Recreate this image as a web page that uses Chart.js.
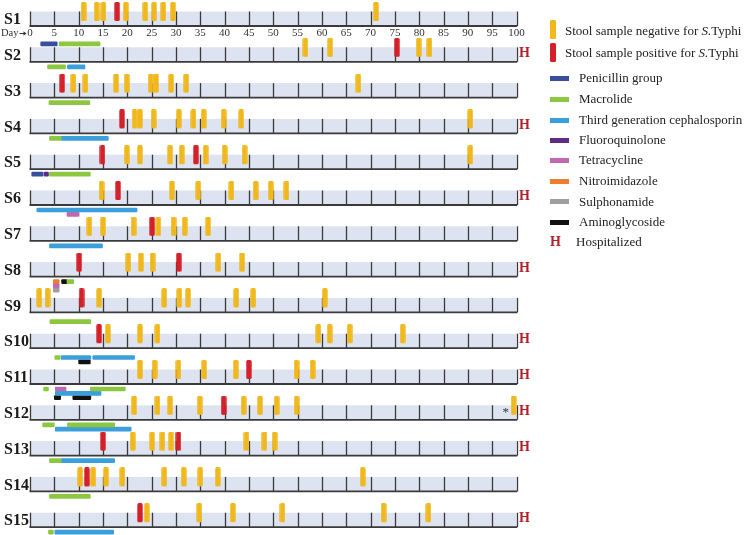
<!DOCTYPE html>
<html>
<head>
<meta charset="utf-8">
<script src="https://cdn.jsdelivr.net/npm/chart.js@4.4.1/dist/chart.umd.min.js"></script>
<style>
  body { margin: 0; background: #fff; }
  #wrap { position: relative; width: 750px; height: 535px; }
  #legend { position: absolute; left: 0; top: 0; font-family: "Liberation Serif", serif; font-size: 13px; color: #222; }
  .item { position: absolute; height: 16px; line-height: 16px; white-space: nowrap; }
  .sw { position: absolute; }
</style>
</head>
<body>
<div id="wrap">
  <canvas id="chart" width="750" height="535"></canvas>
  <div id="legend"></div>
</div>
<script>
// ── Data ─────────────────────────────────────────────────────────────────────
const rows = [1, 2, 3, 4, 5, 6, 7, 8, 9, 10, 11, 12, 13, 14, 15];
const rowLabels = rows.map(r => "S" + r);
const dayTicks = [0, 5, 10, 15, 20, 25, 30, 35, 40, 45, 50, 55, 60, 65, 70, 75, 80, 85, 90, 95, 100];

// stool sample days, one list per subject (S1..S15)
const negativeDays = [
  [11.0, 13.7, 15.1, 19.7, 23.7, 25.5, 27.4, 29.4, 71.1],
  [56.6, 61.7, 79.9, 82.1],
  [8.9, 11.4, 17.7, 19.9, 24.8, 25.9, 29.0, 32.1, 67.5],
  [21.5, 22.6, 25.4, 30.6, 33.6, 35.7, 39.8, 43.4, 90.5],
  [19.9, 22.6, 28.8, 31.2, 36.1, 40.0, 44.1, 90.5],
  [14.7, 29.2, 34.6, 41.4, 46.4, 49.5, 52.7],
  [12.2, 15.0, 21.3, 26.4, 29.5, 31.8, 36.6],
  [20.2, 22.8, 25.2, 38.7, 43.6],
  [1.9, 3.6, 14.2, 27.6, 30.7, 32.5, 42.4, 45.9, 60.6],
  [16.0, 22.6, 26.2, 59.3, 61.6, 65.7, 76.6],
  [22.6, 25.6, 30.5, 35.8, 42.3, 54.8, 58.1],
  [21.4, 26.2, 28.8, 34.9, 43.9, 47.3, 50.7, 54.8, 99.4],
  [21.1, 25.1, 27.2, 29.0, 44.5, 48.2, 50.3],
  [10.3, 13.0, 15.6, 19.0, 27.6, 31.6, 35.0, 38.6, 68.4],
  [24.0, 34.8, 41.7, 51.9, 72.7, 81.9]
];
const positiveDays = [
  [17.9], [75.4], [6.6], [18.9], [14.9, 34.1], [18.1], [25.1], [10.1, 30.6],
  [10.6], [14.2], [45.0], [39.8], [15.0, 30.5], [11.7], [22.6]
];

// antibiotic courses: [subject, start day, end day, lane under the row]
const penicillin = [[1, 2.2, 5.6, 3], [5, 0.35, 2.7, 0]];
const macrolide = [
  [1, 6.0, 14.4, 3], [2, 3.6, 7.3, 0], [3, 3.9, 12.3, 0], [4, 4.0, 6.4, 0], [5, 4.0, 12.4, 0],
  [8, 7.6, 9.0, 0], [9, 4.1, 12.5, 1], [10, 5.1, 6.2, 1], [11, 2.8, 3.8, 0], [11, 12.4, 19.6, 0],
  [12, 2.6, 5.0, 0], [12, 7.7, 17.4, 0], [13, 4.0, 6.4, 0], [14, 4.0, 12.4, 0], [15, 3.8, 4.8, 0]
];
const cephalosporin = [
  [2, 7.7, 11.3, 0], [4, 6.4, 16.1, 0], [6, 1.4, 22.0, 0], [7, 4.0, 14.9, 0], [10, 6.4, 12.5, 1],
  [10, 12.9, 21.5, 1], [11, 5.2, 14.6, 1], [12, 5.2, 20.8, 1], [13, 6.4, 17.4, 0], [15, 5.1, 17.2, 0]
];
const fluoroquinolone = [[5, 2.9, 3.8, 0]];
const tetracycline = [[6, 7.6, 10.1, 1], [8, 4.8, 6.0, 1], [11, 5.2, 7.4, 0]];
const nitroimidazole = [[8, 4.8, 6.0, 0]];
const sulphonamide = [[8, 4.8, 6.0, 2]];
const aminoglycoside = [[8, 6.5, 7.6, 0], [10, 10.0, 12.4, 2], [11, 5.0, 6.3, 2], [11, 8.8, 12.5, 2]];

const hospitalized = [2, 4, 6, 8, 10, 11, 12, 13, 15];
const starNote = { row: 12, day: 97.8 };

// ── Look ─────────────────────────────────────────────────────────────────────
const SERIF = '"Liberation Serif", serif';
const YELLOW = "#f0b81c";
const RED = "#d42029";
const H_RED = "#b3202a";
const BAND = "#dde3f0";
const LINE = "#3a3a3a";
const ROW_STEP = 35.8;   // px between row baselines
const FIRST_BASE = 26;   // px of S1 baseline
const BAND_H = 14.5;
const lanePx = lane => 5 + 4.3 * lane;

const DRUGS = [
  { label: "Penicillin group", data: penicillin, color: "#3a4e9e" },
  { label: "Macrolide", data: macrolide, color: "#8dc641" },
  { label: "Third generation cephalosporin", data: cephalosporin, color: "#3a9fdb" },
  { label: "Fluoroquinolone", data: fluoroquinolone, color: "#5e2c82" },
  { label: "Tetracycline", data: tetracycline, color: "#c068b0" },
  { label: "Nitroimidazole", data: nitroimidazole, color: "#ee7d2e" },
  { label: "Sulphonamide", data: sulphonamide, color: "#a39d9d" },
  { label: "Aminoglycoside", data: aminoglycoside, color: "#111111" }
];

// sample marker sprite: bar sits above the point (point = row baseline)
function markerSprite(color) {
  const c = document.createElement("canvas");
  c.width = 6; c.height = 48;
  const g = c.getContext("2d");
  g.fillStyle = color;
  g.beginPath();
  g.roundRect(0.3, 0, 5.4, 19, 1.5);
  g.fill();
  return c;
}

const toPoints = lists => lists.flatMap((days, i) => days.map(d => ({ x: d, y: rows[i] })));

// ── Frame plugin: bands, ticks, row labels, day axis, H marks ────────────────
const framePlugin = {
  id: "frame",
  beforeDatasetsDraw(chart) {
    const { ctx, scales: { x, y } } = chart;
    ctx.save();
    rows.forEach(r => {
      const b = y.getPixelForValue(r);
      const x0 = x.getPixelForValue(0), x1 = x.getPixelForValue(100);
      ctx.fillStyle = BAND;
      ctx.fillRect(x0, b - BAND_H, x1 - x0, BAND_H);
      ctx.strokeStyle = LINE;
      ctx.lineWidth = 1.3;
      dayTicks.forEach(d => {
        const px = Math.round(x.getPixelForValue(d)) + 0.5;
        ctx.beginPath();
        ctx.moveTo(px, b - BAND_H);
        ctx.lineTo(px, b);
        ctx.stroke();
      });
      ctx.lineWidth = 1.8;
      ctx.beginPath();
      ctx.moveTo(x0 - 0.5, b);
      ctx.lineTo(x1 + 0.7, b);
      ctx.stroke();
    });
    ctx.restore();
  },
  afterDraw(chart) {
    const { ctx, scales: { x, y } } = chart;
    ctx.save();
    ctx.textBaseline = "middle";
    // row labels
    ctx.fillStyle = "#1a1a1a";
    ctx.font = "bold 16px " + SERIF;
    ctx.textAlign = "left";
    rows.forEach((r, i) => ctx.fillText(rowLabels[i], 4, y.getPixelForValue(r) - 6));
    // day axis under S1
    const b1 = y.getPixelForValue(rows[0]);
    const x0 = x.getPixelForValue(0);
    ctx.fillStyle = "#333";
    ctx.font = "11px " + SERIF;
    ctx.textAlign = "center";
    dayTicks.forEach(d => ctx.fillText(String(d), x.getPixelForValue(d), b1 + 7.5));
    ctx.textAlign = "left";
    ctx.font = "10.5px " + SERIF;
    ctx.fillText("Day", x0 - 29, b1 + 7.5);
    ctx.strokeStyle = "#333";
    ctx.lineWidth = 1;
    ctx.beginPath();
    ctx.moveTo(x0 - 10.5, b1 + 7.5);
    ctx.lineTo(x0 - 4, b1 + 7.5);
    ctx.stroke();
    ctx.beginPath();
    ctx.moveTo(x0 - 3.5, b1 + 7.5);
    ctx.lineTo(x0 - 6.5, b1 + 5.2);
    ctx.lineTo(x0 - 6.5, b1 + 9.8);
    ctx.closePath();
    ctx.fill();
    // hospitalized marks
    ctx.fillStyle = H_RED;
    ctx.font = "bold 14px " + SERIF;
    hospitalized.forEach(r => ctx.fillText("H", x.right + 2.5, y.getPixelForValue(r) - 8.5));
    // asterisk note
    ctx.fillStyle = "#333";
    ctx.font = "13px " + SERIF;
    ctx.textAlign = "center";
    ctx.fillText("*", x.getPixelForValue(starNote.day), y.getPixelForValue(starNote.row) - 7);
    ctx.restore();
  }
};

// ── Chart ────────────────────────────────────────────────────────────────────
Chart.defaults.font.family = SERIF;

const drugDatasets = DRUGS.map(dr => ({
  type: "bar",
  label: dr.label,
  indexAxis: "y",
  grouped: false,
  barThickness: 4,
  borderRadius: 1,
  borderSkipped: false,
  backgroundColor: dr.color,
  data: dr.data.map(([r, s, e, lane]) => ({ x: [s, e], y: r + lanePx(lane) / ROW_STEP }))
}));

const sampleDataset = (label, lists, color) => ({
  type: "scatter",
  label,
  data: toPoints(lists),
  pointStyle: markerSprite(color),
  pointRadius: 3,
  pointBorderWidth: 0,
  clip: false
});

new Chart(document.getElementById("chart"), {
  type: "bar",
  data: {
    datasets: [
      sampleDataset("Stool sample positive for S.Typhi", positiveDays, RED),
      sampleDataset("Stool sample negative for S.Typhi", negativeDays, YELLOW),
      ...drugDatasets
    ]
  },
  options: {
    responsive: false,
    animation: false,
    layout: { autoPadding: false, padding: { left: 30, right: 233.5, top: 0, bottom: 0 } },
    plugins: { legend: { display: false }, tooltip: { enabled: false } },
    scales: {
      x: { type: "linear", display: false, offset: false, min: 0, max: 100 },
      y: {
        type: "linear",
        display: false,
        offset: false,
        reverse: true,
        min: 1 - FIRST_BASE / ROW_STEP,
        max: 1 + (535 - FIRST_BASE) / ROW_STEP
      }
    }
  },
  plugins: [framePlugin]
});

// ── HTML legend ──────────────────────────────────────────────────────────────
const legend = document.getElementById("legend");
function addItem(center, swatchHtml, textLeft, textHtml) {
  const sw = document.createElement("div");
  sw.innerHTML = swatchHtml;
  legend.appendChild(sw.firstChild);
  const t = document.createElement("div");
  t.className = "item";
  t.style.left = textLeft + "px";
  t.style.top = (center - 8) + "px";
  t.innerHTML = textHtml;
  legend.appendChild(t);
}
addItem(30.7, `<div class="sw" style="left:550px;top:20px;width:6px;height:19px;border-radius:1.5px;background:${YELLOW}"></div>`,
  565, "Stool sample negative for <i>S.</i>Typhi");
addItem(53.3, `<div class="sw" style="left:550px;top:43px;width:6px;height:19px;border-radius:1.5px;background:${RED}"></div>`,
  565, "Stool sample positive for <i>S.</i>Typhi");
const drugCenters = [78.3, 99.3, 120, 140, 160.3, 181, 201.7, 222];
DRUGS.forEach((dr, i) => {
  addItem(drugCenters[i], `<div class="sw" style="left:550px;top:${drugCenters[i] - 2.5}px;width:19px;height:5px;background:${dr.color}"></div>`,
    579, dr.label);
});
addItem(242.3, `<div class="sw" style="left:550px;top:234px;height:16px;line-height:16px;color:${H_RED};font-weight:bold;font-size:14px">H</div>`,
  576, "Hospitalized");
</script>
</body>
</html>
